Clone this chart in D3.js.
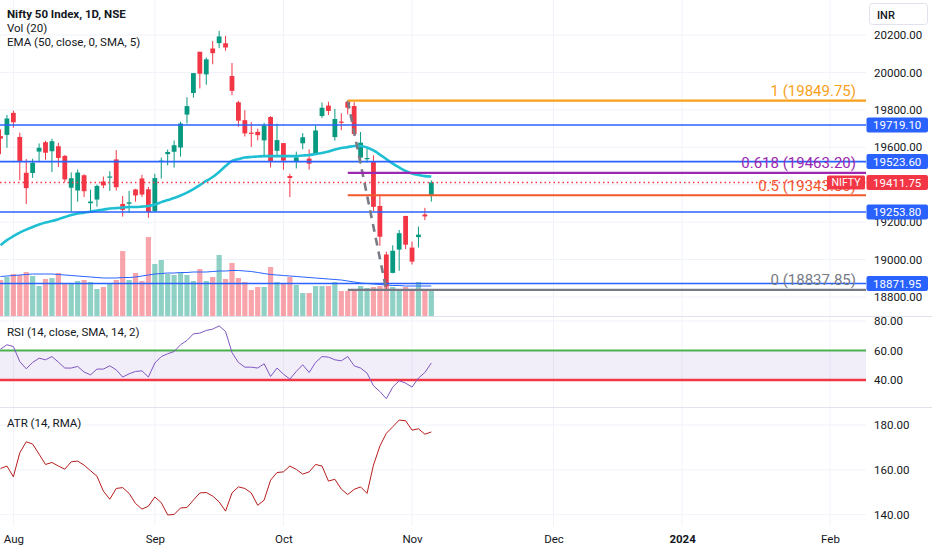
<!DOCTYPE html>
<html>
<head>
<meta charset="utf-8">
<script src="https://cdn.jsdelivr.net/npm/d3@7"></script>
<style>
  body { margin: 0; background: #ffffff; }
  svg { display: block; font-family: Roboto, "Noto Sans", sans-serif; }
</style>
</head>
<body>
<div id="chart"></div>
<script>
// daily bars, NIFTY 50 (NSE), 28 Jul - 6 Nov 2023
var dates = ["07-28","07-31",
  "08-01","08-02","08-03","08-04","08-07","08-08","08-09","08-10","08-11","08-14","08-16",
  "08-17","08-18","08-21","08-22","08-23","08-24","08-25","08-28","08-29","08-30","08-31",
  "09-01","09-04","09-05","09-06","09-07","09-08","09-11","09-12","09-13","09-14","09-15",
  "09-18","09-20","09-21","09-22","09-25","09-26","09-27","09-28","09-29",
  "10-03","10-04","10-05","10-06","10-09","10-10","10-11","10-12","10-13","10-16","10-17",
  "10-18","10-19","10-20","10-23","10-25","10-26","10-27","10-30","10-31",
  "11-01","11-02","11-03","11-06"];

var opens = [19659.75,19666.35,19784.00,19655.40,19463.75,19462.80,19576.85,19627.20,19578.80,19605.55,
  19554.25,19383.95,19369.00,19450.55,19301.15,19320.65,19417.10,19439.20,19535.15,19297.40,
  19298.35,19374.85,19433.45,19375.55,19258.15,19525.05,19563.40,19576.00,19598.65,19774.80,
  19890.00,20110.35,19989.50,20127.95,20156.45,20155.95,19980.75,19840.55,19744.85,19678.20,
  19682.80,19637.05,19761.80,19581.20,19622.40,19446.30,19521.40,19621.20,19539.45,19565.65,
  19767.00,19822.70,19654.55,19737.25,19843.20,19820.45,19545.20,19542.15,19521.60,19286.45,
  19027.25,18928.75,19053.40,19232.95,19064.05,19120.00,19241.00,19345.85];
var highs = [19695.90,19772.75,19795.60,19678.25,19537.65,19538.85,19620.45,19634.40,19645.50,19623.60,
  19557.75,19465.85,19481.35,19456.15,19373.30,19400.50,19443.50,19472.05,19584.45,19339.55,
  19366.85,19377.90,19452.80,19388.20,19458.55,19545.15,19587.95,19636.20,19737.00,19867.15,
  19995.85,20110.35,20079.55,20167.65,20222.45,20195.35,20050.35,19848.75,19798.65,19734.15,
  19699.35,19730.70,19766.65,19726.25,19623.20,19457.80,19576.95,19675.75,19588.95,19717.80,
  19839.20,19843.30,19805.40,19781.30,19849.75,19840.95,19681.80,19593.80,19556.85,19347.30,
  19041.70,19076.15,19158.50,19233.70,19096.20,19175.90,19276.25,19423.50];
var lows = [19563.10,19597.60,19704.60,19423.55,19296.45,19436.45,19524.80,19533.10,19467.50,19495.40,
  19412.75,19257.90,19309.10,19333.60,19253.60,19282.85,19381.30,19366.60,19369.00,19229.70,
  19249.70,19309.10,19334.75,19223.65,19255.70,19432.85,19503.35,19491.15,19550.05,19727.05,
  19865.35,19914.65,19934.00,20043.45,20129.70,20115.70,19878.35,19709.95,19657.50,19601.85,
  19637.45,19554.00,19492.10,19551.05,19479.65,19333.60,19487.30,19589.40,19480.50,19565.45,
  19756.95,19772.65,19635.30,19691.65,19775.65,19659.70,19512.35,19518.70,19257.85,19074.15,
  18837.85,18926.65,18940.00,19056.65,18973.70,19064.20,19210.90,19309.70];
var closes = [19646.05,19753.80,19733.55,19526.55,19381.65,19517.00,19597.30,19570.85,19632.55,19543.10,
  19428.30,19434.55,19465.00,19365.25,19310.15,19393.60,19396.45,19444.00,19386.70,19265.80,
  19306.05,19342.65,19347.45,19253.80,19435.30,19528.80,19574.90,19611.05,19727.05,19819.95,
  19996.35,19993.20,20070.00,20103.10,20192.35,20133.30,19901.40,19742.35,19674.25,19674.55,
  19664.70,19716.45,19523.55,19638.30,19528.75,19436.10,19545.75,19653.50,19512.35,19689.85,
  19811.35,19794.00,19751.05,19731.75,19811.50,19671.10,19624.70,19542.65,19281.75,19122.15,
  18857.25,19047.25,19140.90,19079.60,18989.15,19133.25,19230.60,19411.75];

// volume (millions of shares) and its 20-day average
var volumes = [360,390,420,410,440,400,300,370,380,430,330,330,350,360,340,270,290,330,360,650,
  360,430,350,790,520,560,420,410,430,410,350,470,350,390,610,370,530,380,340,260,
  290,290,490,340,320,390,310,230,230,300,300,300,340,250,250,260,300,280,290,300,
  300,290,270,290,270,340,270,270];
var volumeMA = [395,400,405,410,415,420,420,420,420,415,410,405,400,395,390,385,380,380,380,385,
  385,390,400,410,420,425,430,430,435,435,440,440,440,445,450,450,455,455,450,445,
  435,425,415,410,405,400,395,390,385,380,375,370,365,360,350,340,330,325,320,315,
  310,305,305,300,300,300,300,300];

var ema50 = [19077,19104,19125,19144,19160,19174,19187,19198,19206,19216,19227,19238,19246,19251,19256,
  19262,19267,19273,19275,19278,19281,19281,19283,19286,19294,19307,19318,19329,19342,19358,
  19377,19398,19420,19441,19468,19500,19527,19537,19545,19548,19551,19553,19553,19553,19553,
  19553,19553,19556,19559,19564,19569,19577,19588,19596,19601,19607,19607,19599,19583,19561,
  19537,19513,19492,19473,19460,19452,19446,19444];

var rsi = [60.9,63.9,62.7,52.5,47.6,51.9,54.8,53.7,55.9,52.1,48.1,48.1,49.2,45.4,43.5,47.4,47.4,49.6,46.9,42.0,
  44.2,45.8,46.2,42.0,51.5,55.9,57.8,59.3,63.9,66.8,71.3,71.8,73.6,74.5,76.7,72.9,58.6,51.9,48.7,48.7,
  48.1,51.0,42.4,48.1,44.0,40.6,45.8,50.3,45.1,51.9,55.9,55.5,53.7,53.0,55.9,49.6,48.1,44.7,36.1,32.2,
  27.3,35.2,39.5,37.9,35.2,41.3,45.1,51.5];

var atr = [160.6,161.7,156.9,167.6,172.5,171.5,167.0,162.4,163.3,161.7,160.3,163.6,163.9,162.1,159.6,157.2,150.5,146.9,151.7,152.1,
  149.5,145.0,142.5,143.8,147.9,145.4,139.9,140.1,143.0,143.2,146.5,149.7,149.9,148.3,145.7,141.6,149.7,152.4,151.7,149.7,
  144.2,146.5,155.4,158.8,159.1,161.7,160.2,158.1,159.1,162.4,161.7,155.0,155.8,151.4,149.0,151.3,152.4,149.5,162.1,170.6,
  176.3,179.2,182.2,181.9,177.7,178.3,175.9,176.9];

// time axis: label and the bar index where the month starts (future bars continue the count)
var monthLabels = ["Aug", "Sep", "Oct", "Nov", "Dec", "2024", "Feb"];
var monthBars = [2, 24, 44, 64, 86, 106, 129];

var priceGrid = [18800, 19000, 19200, 19400, 19600, 19800, 20000, 20200];
// 19400.00 sits under the last-price tag, so it is not labelled
var priceTicks = [18800, 19000, 19200, 19600, 19800, 20000, 20200];
var rsiTicks = [40, 60, 80];
var atrTicks = [140, 160, 180];

// drawings
var levels = [19719.10, 19523.60, 19253.80, 18871.95];
var fibRatios = [1, 0.618, 0.5, 0];
var fibPrices = [19849.75, 19463.20, 19343.80, 18837.85];
var fibColors = ["#f9a11b", "#9c27b0", "#f2582c", "#787b86"];
var fibStartBar = 54, fibEndBar = 60;
var lastPrice = 19411.75;

var W = 932, H = 550, plotRight = 866;
var up = "#089981", down = "#f23645";

var svg = d3.select("#chart").append("svg")
    .attr("width", W)
    .attr("height", H);

// scales
var x = d3.scaleLinear().domain([0, 129]).range([0.5, 830]);
var yPrice = d3.scaleLinear().domain([18800, 20200]).range([297, 35]);
var yVol = d3.scaleLinear().domain([0, 800]).range([316, 236]);
var yRsi = d3.scaleLinear().domain([40, 80]).range([380, 321]);
var yAtr = d3.scaleLinear().domain([140, 180]).range([514.7, 425]);

// grid
var grid = svg.append("g").attr("stroke", "#f0f3fa").attr("stroke-width", 1);
grid.selectAll(".vg").data(monthBars).enter().append("line")
    .attr("x1", function(d) { return x(d); })
    .attr("x2", function(d) { return x(d); })
    .attr("y1", 0).attr("y2", 526);
grid.selectAll(".hp").data(priceGrid).enter().append("line")
    .attr("x1", 0).attr("x2", plotRight)
    .attr("y1", function(d) { return yPrice(d); })
    .attr("y2", function(d) { return yPrice(d); });
grid.selectAll(".hr").data(rsiTicks).enter().append("line")
    .attr("x1", 0).attr("x2", plotRight)
    .attr("y1", function(d) { return yRsi(d); })
    .attr("y2", function(d) { return yRsi(d); });
grid.selectAll(".ha").data(atrTicks).enter().append("line")
    .attr("x1", 0).attr("x2", plotRight)
    .attr("y1", function(d) { return yAtr(d); })
    .attr("y2", function(d) { return yAtr(d); });

// volume
svg.append("g").selectAll("rect")
   .data(volumes)
   .enter()
   .append("rect")
   .attr("x", function(d, i) { return x(i) - 2.6; })
   .attr("width", 5.2)
   .attr("y", function(d) { return yVol(d); })
   .attr("height", function(d) { return yVol(0) - yVol(d); })
   .attr("fill", function(d, i) {
     return closes[i] >= opens[i] ? "rgba(8,153,129,0.45)" : "rgba(242,54,69,0.45)";
   });

svg.append("path")
   .datum(volumeMA)
   .attr("fill", "none")
   .attr("stroke", "#2962ff")
   .attr("stroke-width", 1)
   .attr("d", d3.line().x(function(d, i) { return x(i); }).y(function(d) { return yVol(d); }));

// candles
var candle = svg.append("g").selectAll("g")
   .data(closes)
   .enter()
   .append("g")
   .attr("fill", function(d, i) { return d >= opens[i] ? up : down; })
   .attr("stroke", function(d, i) { return d >= opens[i] ? up : down; });

candle.append("line")
   .attr("x1", function(d, i) { return x(i); })
   .attr("x2", function(d, i) { return x(i); })
   .attr("y1", function(d, i) { return yPrice(highs[i]); })
   .attr("y2", function(d, i) { return yPrice(lows[i]); })
   .attr("stroke-width", 1);

candle.append("rect")
   .attr("stroke", "none")
   .attr("x", function(d, i) { return x(i) - 2.4; })
   .attr("width", 4.8)
   .attr("y", function(d, i) { return yPrice(Math.max(d, opens[i])); })
   .attr("height", function(d, i) {
     return Math.max(1.2, Math.abs(yPrice(d) - yPrice(opens[i])));
   });

// EMA 50
svg.append("path")
   .datum(ema50)
   .attr("fill", "none")
   .attr("stroke", "#1fbfd3")
   .attr("stroke-width", 2.6)
   .attr("stroke-linejoin", "round")
   .attr("d", d3.line().curve(d3.curveMonotoneX)
      .x(function(d, i) { return x(i); })
      .y(function(d) { return yPrice(d); }));

// horizontal levels
svg.append("g").selectAll("line")
   .data(levels)
   .enter()
   .append("line")
   .attr("x1", 0).attr("x2", plotRight)
   .attr("y1", function(d) { return yPrice(d); })
   .attr("y2", function(d) { return yPrice(d); })
   .attr("stroke", "#2962ff")
   .attr("stroke-width", 1.6);

// fib retracement
var fib = svg.append("g");
fib.append("line")
   .attr("x1", x(fibStartBar)).attr("y1", yPrice(fibPrices[0]))
   .attr("x2", x(fibEndBar)).attr("y2", yPrice(fibPrices[3]))
   .attr("stroke", "#787b86")
   .attr("stroke-width", 2.6)
   .attr("stroke-dasharray", "8 6");

fib.selectAll(".fl").data(fibPrices).enter().append("line")
   .attr("x1", x(fibStartBar)).attr("x2", plotRight)
   .attr("y1", function(d) { return yPrice(d); })
   .attr("y2", function(d) { return yPrice(d); })
   .attr("stroke", function(d, i) { return fibColors[i]; })
   .attr("stroke-width", 2.2);

fib.selectAll(".ft").data(fibPrices).enter().append("text")
   .attr("x", 856)
   .attr("y", function(d) { return yPrice(d) - 4.5; })
   .attr("text-anchor", "end")
   .attr("font-size", 15)
   .attr("fill", function(d, i) { return fibColors[i]; })
   .text(function(d, i) { return fibRatios[i] + " (" + d.toFixed(2) + ")"; });

// last price line
svg.append("line")
   .attr("x1", 0).attr("x2", plotRight)
   .attr("y1", yPrice(lastPrice)).attr("y2", yPrice(lastPrice))
   .attr("stroke", down)
   .attr("stroke-width", 1.4)
   .attr("stroke-dasharray", "1.5 3");

// RSI pane
svg.append("rect")
   .attr("x", 0).attr("width", plotRight)
   .attr("y", yRsi(60)).attr("height", yRsi(40) - yRsi(60))
   .attr("fill", "rgba(126,87,194,0.1)");
svg.append("line")
   .attr("x1", 0).attr("x2", plotRight)
   .attr("y1", yRsi(60)).attr("y2", yRsi(60))
   .attr("stroke", "#4caf50").attr("stroke-width", 2);
svg.append("line")
   .attr("x1", 0).attr("x2", plotRight)
   .attr("y1", yRsi(40)).attr("y2", yRsi(40))
   .attr("stroke", down).attr("stroke-width", 2.4);
svg.append("path")
   .datum(rsi)
   .attr("fill", "none")
   .attr("stroke", "#7e57c2")
   .attr("stroke-width", 1)
   .attr("d", d3.line().x(function(d, i) { return x(i); }).y(function(d) { return yRsi(d); }));

// ATR pane
svg.append("path")
   .datum(atr)
   .attr("fill", "none")
   .attr("stroke", "#b71c1c")
   .attr("stroke-width", 1)
   .attr("d", d3.line().x(function(d, i) { return x(i); }).y(function(d) { return yAtr(d); }));

// pane separators
svg.selectAll(".sep").data([316.5, 407.5]).enter().append("line")
   .attr("x1", 0).attr("x2", W)
   .attr("y1", function(d) { return d; }).attr("y2", function(d) { return d; })
   .attr("stroke", "#e0e3eb");

// right axes
function rightAxis(scale, ticks) {
  var g = svg.append("g")
     .attr("transform", "translate(874,0)")
     .call(d3.axisRight(scale).tickValues(ticks).tickFormat(d3.format(".2f")).tickSize(0).tickPadding(0));
  g.select(".domain").remove();
  g.attr("font-size", 11.5).attr("font-family", null).attr("color", "#131722");
  return g;
}
rightAxis(yPrice, priceTicks);
rightAxis(yRsi, rsiTicks);
rightAxis(yAtr, atrTicks);

// level tags on the price axis
var tags = svg.append("g").selectAll("g")
   .data(levels)
   .enter()
   .append("g")
   .attr("transform", function(d) { return "translate(0," + yPrice(d) + ")"; });
tags.append("rect")
   .attr("x", 866.5).attr("y", -7.5).attr("width", 61.5).attr("height", 15).attr("rx", 2)
   .attr("fill", "#2962ff");
tags.append("text")
   .attr("x", 897.2).attr("dy", "0.35em")
   .attr("text-anchor", "middle").attr("font-size", 11.5).attr("fill", "#ffffff")
   .text(function(d) { return d.toFixed(2); });

var last = svg.append("g").attr("transform", "translate(0," + yPrice(lastPrice) + ")");
last.append("rect")
   .attr("x", 827).attr("y", -7).attr("width", 38).attr("height", 14).attr("rx", 1.5)
   .attr("fill", down);
last.append("text")
   .attr("x", 846).attr("dy", "0.35em").attr("text-anchor", "middle")
   .attr("font-size", 10.5).attr("fill", "#ffffff").text("NIFTY");
last.append("rect")
   .attr("x", 866.5).attr("y", -7.5).attr("width", 61.5).attr("height", 15).attr("rx", 2)
   .attr("fill", down);
last.append("text")
   .attr("x", 897.2).attr("dy", "0.35em").attr("text-anchor", "middle")
   .attr("font-size", 11.5).attr("fill", "#ffffff").text(lastPrice.toFixed(2));

// currency box
svg.append("rect")
   .attr("x", 869.5).attr("y", 3.5).attr("width", 58).attr("height", 21).attr("rx", 3)
   .attr("fill", "#ffffff").attr("stroke", "#e0e3eb");
svg.append("text")
   .attr("x", 877).attr("y", 18.5)
   .attr("font-size", 11).attr("font-weight", 500).attr("fill", "#131722").text("INR");

// time axis
var xAxis = svg.append("g")
   .attr("transform", "translate(0,535)")
   .call(d3.axisBottom(x).tickValues(monthBars)
     .tickFormat(function(d, i) { return monthLabels[i]; })
     .tickSize(0).tickPadding(0));
xAxis.select(".domain").remove();
xAxis.attr("font-size", 11.5).attr("font-family", null).attr("color", "#131722");
xAxis.selectAll("text")
   .attr("font-weight", function(d, i) { return monthLabels[i] === "2024" ? 700 : 400; });

// legends
var legend = svg.append("g").attr("fill", "#131722").attr("font-size", 11.5);
legend.append("text").attr("x", 7).attr("y", 18).attr("font-weight", 700).text("Nifty 50 Index, 1D, NSE");
legend.append("text").attr("x", 7).attr("y", 32).text("Vol (20)");
legend.append("text").attr("x", 7).attr("y", 46).text("EMA (50, close, 0, SMA, 5)");
legend.append("text").attr("x", 7).attr("y", 335.5).text("RSI (14, close, SMA, 14, 2)");
legend.append("text").attr("x", 7).attr("y", 426.5).text("ATR (14, RMA)");
</script>
</body>
</html>
